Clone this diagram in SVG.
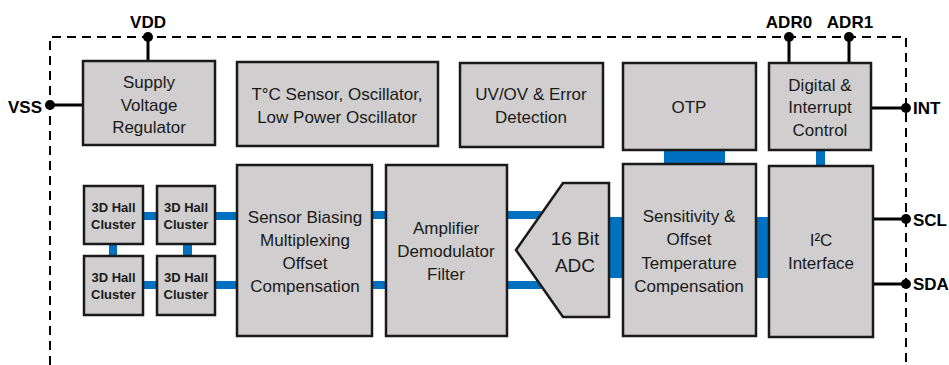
<svg xmlns="http://www.w3.org/2000/svg" width="949" height="365" viewBox="0 0 949 365">
  <style>
    .box { fill: #d0cece; stroke: #1a1a1a; stroke-width: 2.5; }
    .txt { font-family: "Liberation Sans", Arial, sans-serif; font-size: 17px; fill: #1a1a1a; text-anchor: middle; }
    .hall { font-family: "Liberation Sans", Arial, sans-serif; font-size: 13px; font-weight: bold; fill: #1a1a1a; text-anchor: middle; }
    .pin { font-family: "Liberation Sans", Arial, sans-serif; font-size: 17px; font-weight: bold; fill: #000; }
    .bus { fill: #0070c0; }
    .wire { stroke: #000; stroke-width: 3; fill: none; }
    .dot { fill: #000; }
    .border { stroke: #000; stroke-width: 2; fill: none; stroke-dasharray: 9 6; }
  </style>

  <!-- chip outline -->
  <path class="border" d="M50,365 V37 H906 V365"/>

  <!-- connectors -->
  <g id="connectors">
    <!-- data buses -->
    <rect class="bus" x="143" y="212" width="14" height="8"/>
    <rect class="bus" x="143" y="281" width="14" height="8"/>
    <rect class="bus" x="109" y="244" width="8" height="12"/>
    <rect class="bus" x="183" y="244" width="9" height="12"/>
    <rect class="bus" x="215" y="212" width="23" height="8"/>
    <rect class="bus" x="215" y="281" width="23" height="8"/>
    <rect class="bus" x="372" y="211" width="14" height="8"/>
    <rect class="bus" x="372" y="281" width="14" height="8"/>
    <rect class="bus" x="507" y="211" width="45" height="8"/>
    <rect class="bus" x="507" y="281" width="45" height="8"/>
    <rect class="bus" x="608" y="217" width="16" height="61"/>
    <rect class="bus" x="755" y="217" width="15" height="61"/>
    <rect class="bus" x="664" y="149" width="61" height="16"/>
    <rect class="bus" x="816" y="149" width="9" height="18"/>
    <!-- pin wires -->
    <line class="wire" x1="148" y1="37" x2="148" y2="61"/>
    <line class="wire" x1="50" y1="105" x2="83" y2="105"/>
    <line class="wire" x1="789" y1="37" x2="789" y2="63"/>
    <line class="wire" x1="849" y1="37" x2="849" y2="63"/>
    <line class="wire" x1="871" y1="108" x2="906" y2="108"/>
    <line class="wire" x1="873" y1="219" x2="906" y2="219"/>
    <line class="wire" x1="873" y1="284" x2="906" y2="284"/>
    <circle class="dot" cx="148" cy="37" r="5"/>
    <circle class="dot" cx="50" cy="105" r="5"/>
    <circle class="dot" cx="789" cy="37" r="5"/>
    <circle class="dot" cx="849" cy="37" r="5"/>
    <circle class="dot" cx="906" cy="108" r="5"/>
    <circle class="dot" cx="906" cy="219" r="5"/>
    <circle class="dot" cx="906" cy="284" r="5"/>
  </g>

  <!-- pin labels -->
  <g id="pins">
    <text class="pin" x="148" y="28" text-anchor="middle">VDD</text>
    <text class="pin" x="42" y="113" text-anchor="end">VSS</text>
    <text class="pin" x="789" y="28" text-anchor="middle">ADR0</text>
    <text class="pin" x="850" y="28" text-anchor="middle">ADR1</text>
    <text class="pin" x="913" y="114">INT</text>
    <text class="pin" x="913" y="226">SCL</text>
    <text class="pin" x="913" y="290">SDA</text>
  </g>

  <g id="supply">
    <rect class="box" x="83" y="61" width="132" height="84"/>
    <text class="txt" x="149" y="88">Supply</text>
    <text class="txt" x="149" y="111">Voltage</text>
    <text class="txt" x="149" y="133">Regulator</text>
  </g>

  <g id="sensor-osc">
    <rect class="box" x="237" y="62" width="201" height="84"/>
    <text class="txt" x="337" y="100">T°C Sensor, Oscillator,</text>
    <text class="txt" x="337" y="123">Low Power Oscillator</text>
  </g>

  <g id="uvov">
    <rect class="box" x="460" y="63" width="143" height="84"/>
    <text class="txt" x="531" y="100">UV/OV &amp; Error</text>
    <text class="txt" x="531" y="123">Detection</text>
  </g>

  <g id="otp">
    <rect class="box" x="623" y="63" width="133" height="87"/>
    <text class="txt" x="689" y="113">OTP</text>
  </g>

  <g id="digital">
    <rect class="box" x="769" y="63" width="102" height="87"/>
    <text class="txt" x="820" y="91">Digital &amp;</text>
    <text class="txt" x="820" y="113">Interrupt</text>
    <text class="txt" x="820" y="136">Control</text>
  </g>

  <g id="hall-1">
    <rect class="box" x="84" y="186" width="59" height="58"/>
    <text class="hall" x="113.5" y="212">3D Hall</text>
    <text class="hall" x="113.5" y="229">Cluster</text>
  </g>
  <g id="hall-2">
    <rect class="box" x="157" y="186" width="58" height="58"/>
    <text class="hall" x="186" y="212">3D Hall</text>
    <text class="hall" x="186" y="229">Cluster</text>
  </g>
  <g id="hall-3">
    <rect class="box" x="84" y="256" width="59" height="59"/>
    <text class="hall" x="113.5" y="282">3D Hall</text>
    <text class="hall" x="113.5" y="299">Cluster</text>
  </g>
  <g id="hall-4">
    <rect class="box" x="157" y="256" width="58" height="59"/>
    <text class="hall" x="186" y="282">3D Hall</text>
    <text class="hall" x="186" y="299">Cluster</text>
  </g>

  <g id="biasing">
    <rect class="box" x="237" y="165" width="135" height="171"/>
    <text class="txt" x="305" y="223">Sensor Biasing</text>
    <text class="txt" x="305" y="246">Multiplexing</text>
    <text class="txt" x="305" y="269">Offset</text>
    <text class="txt" x="305" y="292">Compensation</text>
  </g>

  <g id="amplifier">
    <rect class="box" x="386" y="165" width="121" height="171"/>
    <text class="txt" x="446" y="234">Amplifier</text>
    <text class="txt" x="446" y="257">Demodulator</text>
    <text class="txt" x="446" y="280">Filter</text>
  </g>

  <g id="adc">
    <polygon class="box" points="563,183 609,183 609,317 563,317 516,250"/>
    <text class="txt" x="575" y="245" style="font-size:19px">16 Bit</text>
    <text class="txt" x="575" y="272" style="font-size:19px">ADC</text>
  </g>

  <g id="compensation">
    <rect class="box" x="623" y="164" width="133" height="172"/>
    <text class="txt" x="689" y="222">Sensitivity &amp;</text>
    <text class="txt" x="689" y="245">Offset</text>
    <text class="txt" x="689" y="269">Temperature</text>
    <text class="txt" x="689" y="292">Compensation</text>
  </g>

  <g id="i2c">
    <rect class="box" x="769" y="166" width="104" height="171"/>
    <text class="txt" x="821" y="246">I²C</text>
    <text class="txt" x="821" y="269">Interface</text>
  </g>
</svg>
